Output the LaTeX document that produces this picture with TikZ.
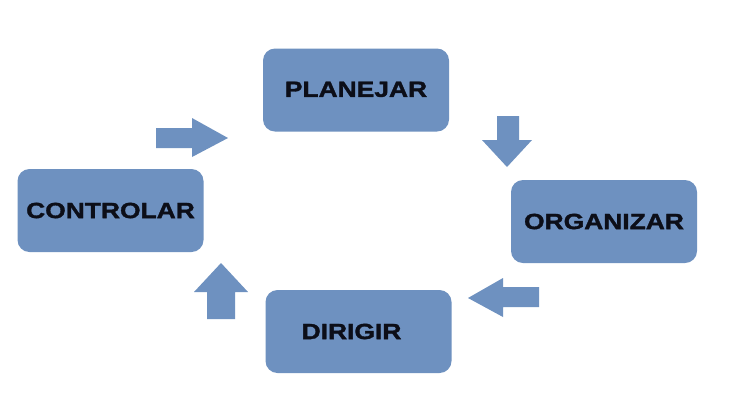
\documentclass[tikz,border=0pt]{standalone}
\usepackage{fontspec}
\newfontfamily\lblfont[FakeStretch=1.2,FakeBold=1.6]{Liberation Sans Bold}
\definecolor{boxblue}{RGB}{110,145,192}
\definecolor{labelink}{RGB}{12,14,24}
\begin{document}
\begin{tikzpicture}[x=1pt,y=-1pt,
  stagebox/.style={fill=boxblue, rounded corners=12pt, minimum width=186pt, minimum height=83pt, inner sep=0pt,
    font=\lblfont\fontsize{22}{24}\selectfont, text=labelink},
  blockarrow/.style={fill=boxblue}]
\useasboundingbox[fill=white] (0,0) rectangle (735,400);
\node[stagebox] (planejar) at (356,90) {\raisebox{1.5pt}{PLANEJAR}};
\node[stagebox] (controlar) at (110.5,210.5) {CONTROLAR};
\node[stagebox] (organizar) at (604,221.5) {ORGANIZAR};
\node[stagebox] (dirigir) at (358.5,331.5) {\kern-14pt DIRIGIR};
% block arrows
\fill[blockarrow] (156,128) -- (192,128) -- (192,118) -- (228,138) -- (192,157) -- (192,148) -- (156,148) -- cycle;
\fill[blockarrow] (497,116) -- (519,116) -- (519,140) -- (532,140) -- (507,167) -- (482,140) -- (497,140) -- cycle;
\fill[blockarrow] (539,287) -- (503,287) -- (503,278) -- (468,298) -- (503,317) -- (503,307) -- (539,307) -- cycle;
\fill[blockarrow] (207,319) -- (207,292) -- (194,292) -- (221,263) -- (248,292) -- (235,292) -- (235,319) -- cycle;
\end{tikzpicture}
\end{document}
